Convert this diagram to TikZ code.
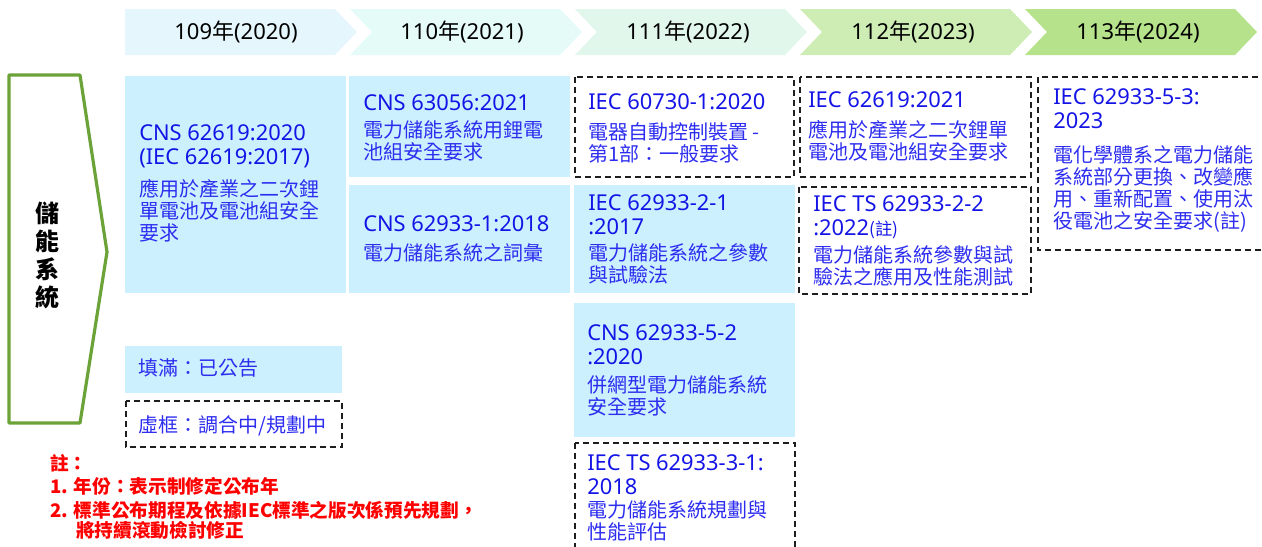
\documentclass[tikz,border=0pt]{standalone}
\usepackage{fontspec}
\setmainfont{Noto Sans}
\newfontfamily\cjk{Noto Sans CJK TC}
\definecolor{chevA}{RGB}{229,246,253}
\definecolor{chevB}{RGB}{229,251,248}
\definecolor{chevC}{RGB}{226,247,235}
\definecolor{chevD}{RGB}{205,237,181}
\definecolor{chevE}{RGB}{181,226,139}
\definecolor{boxblue}{RGB}{204,240,253}
\definecolor{ttlblue}{RGB}{20,20,230}
\definecolor{dscblue}{RGB}{45,45,240}
\definecolor{arrowgreen}{RGB}{107,163,56}
\definecolor{dashgray}{RGB}{30,30,30}
\tikzset{
  filledbox/.style={fill=boxblue},
  dashbox/.style={draw=dashgray, line width=1.5pt, dash pattern=on 4.5pt off 3pt},
  ttl/.style={anchor=base west, inner sep=0pt, align=left, text=ttlblue, font=\fontsize{16.4}{18}\selectfont},
  dsc/.style={anchor=base west, inner sep=0pt, align=left, text=dscblue, font=\cjk\fontsize{15}{16.5}\selectfont},
  hdr/.style={inner sep=0pt, text=black, font=\fontsize{16.5}{19}\selectfont},
  note/.style={anchor=base west, inner sep=0pt, text=red, font=\cjk\bfseries\fontsize{14}{16}\selectfont},
}
\begin{document}
\begin{tikzpicture}[x=0.75pt,y=-0.75pt]
\useasboundingbox (0,0) rectangle (1262,546);
\clip (0,0) rectangle (1262,546);
% header chevrons
\fill[chevA] (125,9) -- (335,9) -- (357,32) -- (335,55) -- (125,55) -- cycle;
\fill[chevB] (350,9) -- (560,9) -- (582,32) -- (560,55) -- (350,55) -- (372,32) -- cycle;
\fill[chevC] (575,9) -- (785,9) -- (807,32) -- (785,55) -- (575,55) -- (597,32) -- cycle;
\fill[chevD] (800,9) -- (1010,9) -- (1032,32) -- (1010,55) -- (800,55) -- (822,32) -- cycle;
\fill[chevE] (1025,9) -- (1235,9) -- (1257,32) -- (1235,55) -- (1025,55) -- (1047,32) -- cycle;
\node[hdr] (h1) at (236,32) {109{\cjk 年}(2020)};
\node[hdr] (h2) at (462,32) {110{\cjk 年}(2021)};
\node[hdr] (h3) at (688,32) {111{\cjk 年}(2022)};
\node[hdr] (h4) at (913,32) {112{\cjk 年}(2023)};
\node[hdr] (h5) at (1138,32) {113{\cjk 年}(2024)};
% left arrow
\draw[arrowgreen, line width=2.4pt, line join=round] (9,75) -- (80,75) -- (107,252) -- (80,423) -- (9,423) -- cycle;
\node[inner sep=0pt, align=center, font=\cjk\bfseries\fontsize{18}{21}\selectfont] (ess) at (47,255) {儲\\能\\系\\統};
% boxes
\fill[filledbox] (125,76) rectangle (346,293);
\fill[filledbox] (349,76) rectangle (570,177);
\fill[filledbox] (349,185) rectangle (570,293);
\fill[filledbox] (574,185) rectangle (795,293);
\fill[filledbox] (574,303) rectangle (795,437);
\fill[filledbox] (125,346) rectangle (342,393);
\draw[dashbox] (575,77) rectangle (794,177);
\draw[dashbox] (800,77) rectangle (1031,177);
\draw[dashbox] (799,187) rectangle (1031,294);
\draw[dashbox] (1038,77) rectangle (1275,250);
\draw[dashbox] (575,443) rectangle (795,570);
\draw[dashbox] (126,401) rectangle (342,447);
% box texts (anchor = baseline of the last line)
\node[ttl] (a1) at (139,164) {CNS 62619:2020\\(IEC 62619:2017)};
\node[dsc] (a2) at (139,240) {應用於產業之二次鋰\\單電池及電池組安全\\要求};
\node[ttl] (b1) at (363,110) {CNS 63056:2021};
\node[dsc] (b2) at (363,159) {電力儲能系統用鋰電\\池組安全要求};
\node[ttl] (c1) at (363,231) {CNS 62933-1:2018};
\node[dsc] (c2) at (363,260) {電力儲能系統之詞彙};
\node[ttl] (d1) at (588,109) {IEC 60730-1:2020};
\node[dsc] (d2) at (588,161) {電器自動控制裝置 -\\第1部：一般要求};
\node[ttl] (e1) at (588,234) {IEC 62933-2-1\\:2017};
\node[dsc] (e2) at (588,282) {電力儲能系統之參數\\與試驗法};
\node[ttl] (f1) at (808,107) {IEC 62619:2021};
\node[dsc] (f2) at (808,159) {應用於產業之二次鋰單\\電池及電池組安全要求};
\node[ttl] (g1) at (813,235) {IEC TS 62933-2-2\\:2022{\cjk\fontsize{13}{16}\selectfont(註)}};
\node[dsc] (g2) at (813,284) {電力儲能系統參數與試\\驗法之應用及性能測試};
\node[ttl] (k1) at (1053,128) {IEC 62933-5-3:\\2023};
\node[dsc] (k2) at (1053,228) {電化學體系之電力儲能\\系統部分更換、改變應\\用、重新配置、使用汰\\役電池之安全要求(註)};
\node[ttl] (i1) at (587,364) {CNS 62933-5-2\\:2020};
\node[dsc] (i2) at (587,414) {併網型電力儲能系統\\安全要求};
\node[ttl] (j1) at (587,494) {IEC TS 62933-3-1:\\2018};
\node[dsc] (j2) at (587,539) {電力儲能系統規劃與\\性能評估};
% legend
\node[dsc] (lg1) at (138,375) {填滿：已公告};
\node[dsc] (lg2) at (138,432) {虛框：調合中/規劃中};
% notes
\node[note] (n0) at (50,470) {註：};
\node[note] (n1) at (50,493) {1. 年份：表示制修定公布年};
\node[note] (n2) at (50,517) {2. 標準公布期程及依據IEC標準之版次係預先規劃，};
\node[note] (n3) at (76,537) {將持續滾動檢討修正};
\end{tikzpicture}
\end{document}
